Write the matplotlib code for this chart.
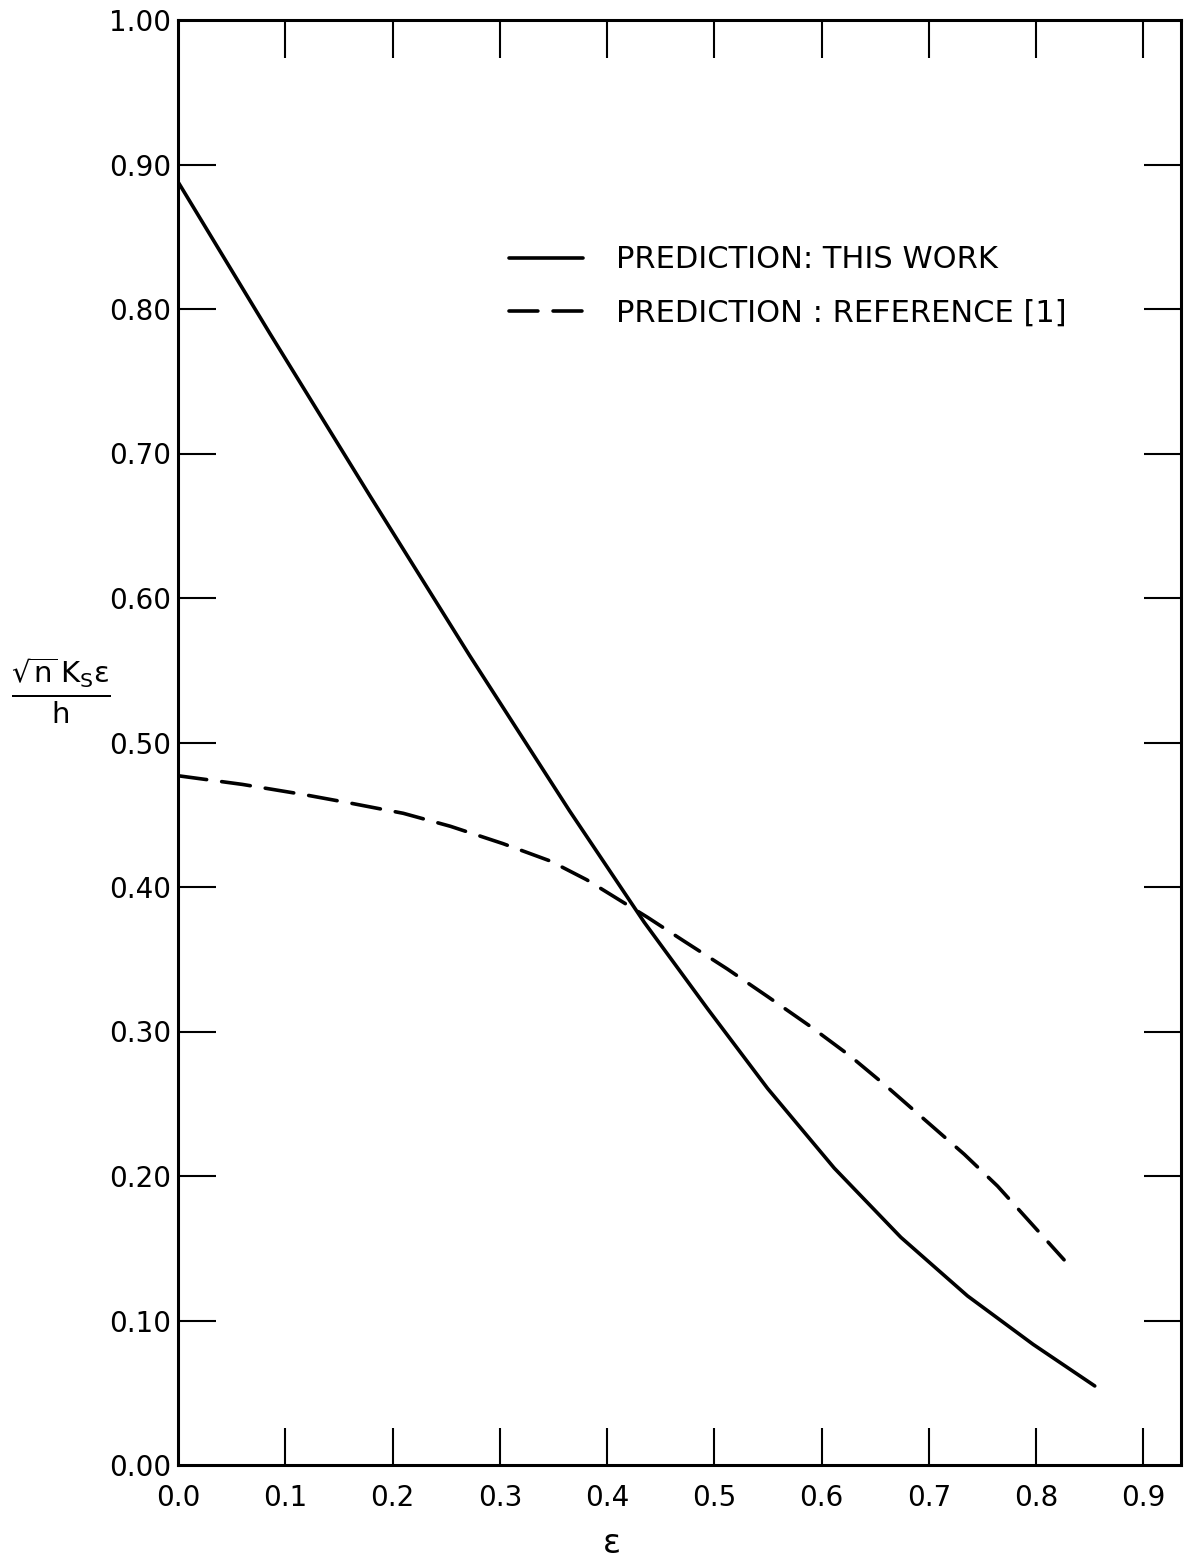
import matplotlib
matplotlib.use("Agg")
import matplotlib.pyplot as plt

# Data
eps_this = [0.0, 0.0857, 0.179, 0.272, 0.365, 0.4346, 0.4937, 0.5496, 0.6117,
            0.6738, 0.736, 0.7971, 0.8546]
val_this = [0.888, 0.783, 0.6706, 0.560, 0.4527, 0.3756, 0.3157, 0.2606, 0.2055,
            0.1576, 0.117, 0.0835, 0.0547]

eps_ref = [0.0, 0.06, 0.117, 0.161, 0.21, 0.254, 0.303, 0.347, 0.381, 0.4377, 0.472,
           0.512, 0.55, 0.589, 0.626, 0.659, 0.694, 0.733, 0.764, 0.795, 0.826]
val_ref = [0.477, 0.471, 0.464, 0.458, 0.451, 0.442, 0.430, 0.418, 0.405, 0.379, 0.3624,
           0.3433, 0.324, 0.3038, 0.2834, 0.263, 0.2403, 0.215, 0.193, 0.1675, 0.142]

x_ticks = [0.0, 0.1, 0.2, 0.3, 0.4, 0.5, 0.6, 0.7, 0.8, 0.9]
x_labels = ["0.0", "0.1", "0.2", "0.3", "0.4", "0.5", "0.6", "0.7", "0.8", "0.9"]
y_ticks = [0.0, 0.1, 0.2, 0.3, 0.4, 0.5, 0.6, 0.7, 0.8, 0.9, 1.0]
y_labels = ["0.00", "0.10", "0.20", "0.30", "0.40", "0.50", "0.60", "0.70", "0.80", "0.90", "1.00"]

label_this = "PREDICTION: THIS WORK"
label_ref = "PREDICTION : REFERENCE [1]"

plt.rcParams['font.family'] = ['DejaVu Sans']
plt.rcParams['mathtext.fontset'] = 'dejavusans'

fig = plt.figure(figsize=(11.84, 15.6), dpi=100)
ax = fig.add_axes([178/1184, 1 - 1465/1560, (1181-178)/1184, (1465-20)/1560])

lw = 2.6
ax.plot(eps_this, val_this, color='black', lw=lw, solid_capstyle='round',
        solid_joinstyle='round', label=label_this)
ax.plot(eps_ref, val_ref, color='black', lw=lw, dashes=(8.0, 4.2), dash_capstyle='round',
        dash_joinstyle='round', label=label_ref)

ax.set_xlim(0, 0.935)
ax.set_ylim(0, 1.0)

ax.set_xticks(x_ticks)
ax.set_xticklabels(x_labels, fontsize=20)
ax.set_yticks(y_ticks)
ax.set_yticklabels(y_labels, fontsize=20)

ax.tick_params(axis='x', direction='in', length=27, width=1.5, top=True, bottom=True, pad=14)
ax.tick_params(axis='y', direction='in', length=27, width=1.5, left=True, right=True, pad=5)
# hide tick marks at extremes (they coincide with the frame)
for t in ax.xaxis.get_major_ticks()[:1]:
    t.tick1line.set_visible(False)
    t.tick2line.set_visible(False)
for t in [ax.yaxis.get_major_ticks()[0], ax.yaxis.get_major_ticks()[-1]]:
    t.tick1line.set_visible(False)
    t.tick2line.set_visible(False)

for s in ax.spines.values():
    s.set_linewidth(2.2)

ax.set_xlabel("ε", fontsize=24, va='center')
ax.xaxis.set_label_coords(0.433, -0.054)
ax.set_ylabel(r"$\frac{\sqrt{\mathrm{n}}\,\mathrm{K}_{\mathrm{S}}\mathrm{\varepsilon}}{\mathrm{h}}$",
              fontsize=30, rotation=0, va='center', ha='center')
ax.yaxis.set_label_coords(-0.117, 0.536)

leg = ax.legend(loc='upper left', bbox_to_anchor=(0.303, 0.863), frameon=False,
                fontsize=22, handlelength=2.4, handletextpad=1.1, labelspacing=0.8)

fig.savefig("out.png", dpi=100)
